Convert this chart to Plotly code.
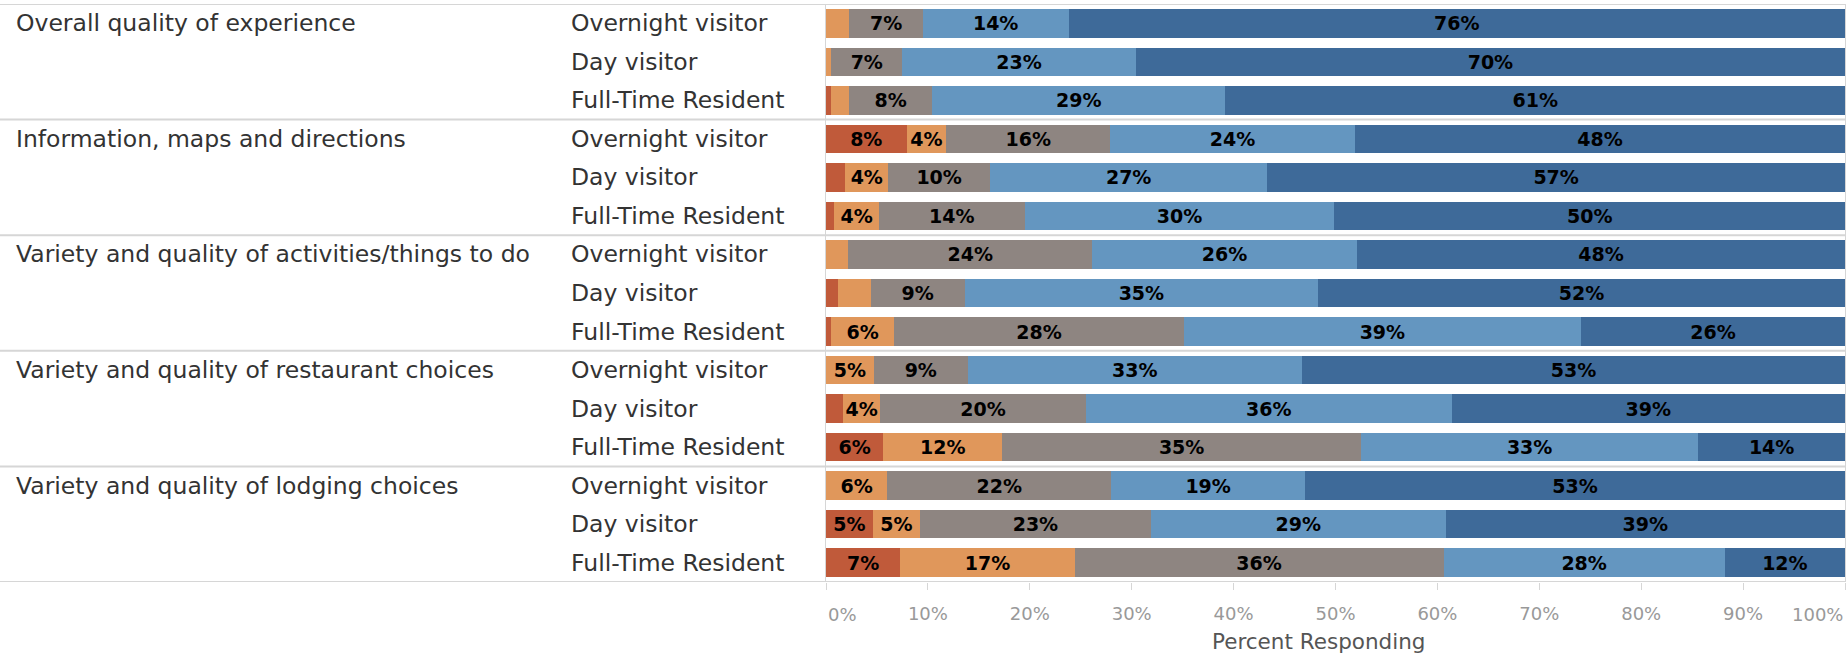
import plotly.graph_objects as go

# ---------------- data ----------------
groups = [
    "Overall quality of experience",
    "Information, maps and directions",
    "Variety and quality of activities/things to do",
    "Variety and quality of restaurant choices",
    "Variety and quality of lodging choices",
]
respondents = ["Overnight visitor", "Day visitor", "Full-Time Resident"]

series_names = ["Very poor", "Poor", "Average", "Good", "Excellent"]
series_colors = ["#C05A3A", "#E0975B", "#8E8581", "#6496C0", "#3E6A99"]

# one value per row (group x respondent), top to bottom, in percent
very_poor = [0, 0, 0.5, 7.9, 1.9, 0.8, 0, 1.2, 0.5, 0, 1.7, 5.6, 0, 4.6, 7.3]
poor = [2.3, 0.5, 1.8, 3.9, 4.2, 4.4, 2.2, 3.2, 6.2, 4.7, 3.6, 11.7, 6.0, 4.6, 17.1]
average = [7.2, 7.0, 8.1, 16.1, 10.0, 14.3, 23.9, 9.2, 28.4, 9.2, 20.2, 35.2, 22.0, 22.7, 36.2]
good = [14.3, 22.9, 28.8, 24.0, 27.2, 30.4, 26.0, 34.7, 39.0, 32.8, 35.9, 33.1, 19.0, 28.9, 27.6]
excellent = [76.2, 69.6, 60.8, 48.1, 56.7, 50.1, 47.9, 51.7, 25.9, 53.3, 38.6, 14.4, 53.0, 39.2, 11.8]

tick_values = [0, 10, 20, 30, 40, 50, 60, 70, 80, 90, 100]
tick_labels = ["0%", "10%", "20%", "30%", "40%", "50%", "60%", "70%", "80%", "90%", "100%"]
axis_title = "Percent Responding"

# ---------------- figure ----------------
FONT = "DejaVu Sans"
W, H = 1847, 654
L, R, T, B = 826, 2, 4, 72
plot_w = W - L - R

n_rows = len(groups) * len(respondents)
row_pos = list(range(n_rows))

fig = go.Figure()
for name, vals, col in zip(series_names, [very_poor, poor, average, good, excellent], series_colors):
    fig.add_trace(go.Bar(
        y=row_pos, x=vals, orientation="h", name=name,
        marker=dict(color=col, line=dict(width=0)),
        width=0.74,
        text=[f"{round(v)}%" if v >= 3.4 else "" for v in vals],
        textposition="inside", insidetextanchor="middle",
        constraintext="none",
        textfont=dict(family=FONT, size=19, color="black", weight="bold"),
        hoverinfo="skip",
    ))

annotations = []
px_to_paper = lambda px: (px - L) / plot_w
for gi, g in enumerate(groups):
    annotations.append(dict(
        x=px_to_paper(14), xref="paper", y=gi * 3, yref="y",
        text=g, showarrow=False, xanchor="left", yanchor="middle",
        font=dict(family=FONT, size=23.5, color="#333333")))
    for ri, r in enumerate(respondents):
        annotations.append(dict(
            x=px_to_paper(569), xref="paper", y=gi * 3 + ri, yref="y",
            text=r, showarrow=False, xanchor="left", yanchor="middle",
            font=dict(family=FONT, size=23.5, color="#333333")))

# end tick labels kept inside the view, like the original
annotations.append(dict(x=tick_values[0], xref="x", y=0, yref="paper", yshift=-32,
                        text=tick_labels[0], showarrow=False, xanchor="left", yanchor="middle",
                        font=dict(family=FONT, size=18, color="#999999")))
annotations.append(dict(x=tick_values[-1], xref="x", y=0, yref="paper", yshift=-32,
                        text=tick_labels[-1], showarrow=False, xanchor="right", yanchor="middle",
                        font=dict(family=FONT, size=18, color="#999999")))
# axis title
annotations.append(dict(x=px_to_paper(1318), xref="paper", y=0, yref="paper", yshift=-59,
                        text=axis_title, showarrow=False, xanchor="center", yanchor="middle",
                        font=dict(family=FONT, size=21.5, color="#555555")))

shapes = []
for yb in [-0.5, 2.5, 5.5, 8.5, 11.5, 14.5]:
    shapes.append(dict(type="line", xref="paper", yref="y",
                       x0=px_to_paper(0), x1=1, y0=yb, y1=yb,
                       line=dict(color="#D6D6D6", width=2), layer="above"))

fig.update_layout(
    width=W, height=H,
    margin=dict(l=L, r=R, t=T, b=B),
    paper_bgcolor="white", plot_bgcolor="white",
    barmode="stack", showlegend=False,
    annotations=annotations, shapes=shapes,
    xaxis=dict(
        range=[0, 100], tickvals=tick_values,
        ticktext=[""] + tick_labels[1:-1] + [""],
        ticks="outside", ticklen=7, tickcolor="#D6D6D6", tickwidth=1,
        tickfont=dict(family=FONT, size=18, color="#999999"),
        ticklabelstandoff=8,
        showgrid=False, zeroline=False, showline=False, fixedrange=True,
    ),
    yaxis=dict(
        range=[n_rows - 0.5, -0.5], showticklabels=False, ticks="",
        showgrid=False, zeroline=False,
        showline=True, mirror=True, linecolor="#D6D6D6", linewidth=1,
        fixedrange=True,
    ),
)

fig.write_html("out.html")
